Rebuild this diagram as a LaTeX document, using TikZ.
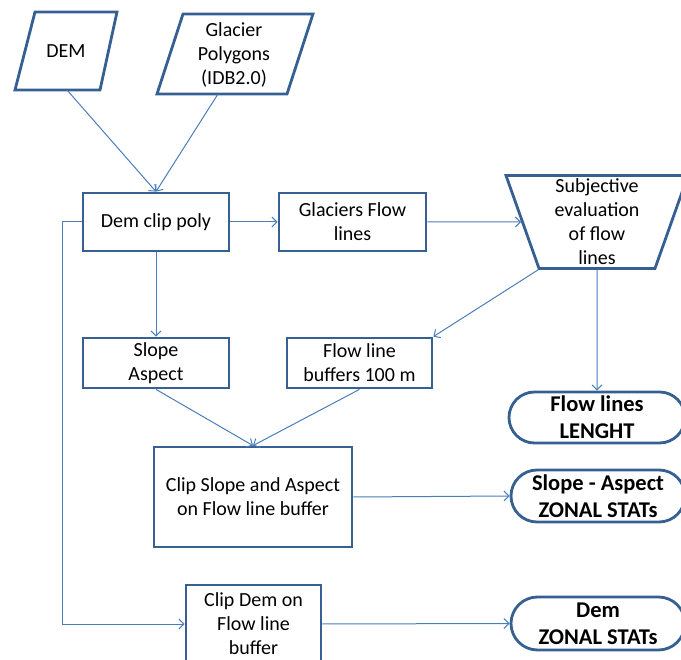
\documentclass[tikz,border=0pt]{standalone}
\usepackage{fontspec}
\setmainfont{Carlito}
\usepackage{xcolor}
\usepackage{tikz}
\usetikzlibrary{shapes.geometric,shapes.misc,arrows.meta}
\definecolor{boxblue}{RGB}{54,96,146}
\definecolor{lineblue}{RGB}{74,126,187}

\begin{document}
\begin{tikzpicture}[x=1pt, y=-1pt,
    pblock/.style={rectangle, draw=boxblue, line width=2.8pt, fill=white, align=center, inner sep=0pt, font=\fontsize{20}{24}\selectfont},
    mblock/.style={trapezium, trapezium stretches body, draw=boxblue, line width=2.8pt, fill=white, align=center, inner sep=0pt, font=\fontsize{20}{24}\selectfont},
    ioframe/.style={draw=boxblue, line width=2.8pt, fill=white, line join=miter},
    iotext/.style={align=center, inner sep=0pt, font=\fontsize{20}{24}\selectfont},
    tblock/.style={rounded rectangle, draw=boxblue, line width=2.8pt, fill=white, align=center, inner sep=0pt, font=\fontsize{22.5}{27}\selectfont\bfseries},
    farrow/.style={-{Straight Barb[length=5pt, width=10pt]}, line width=1pt, lineblue}
  ]
    % Frame
    \useasboundingbox (0,0) rectangle (681,660);
    \clip (0,0) rectangle (681,660);

    % Inputs (parallelograms)
    \draw[ioframe] (35,12) -- (117,12) -- (100,90) -- (15,90) -- cycle;
    \node[iotext] (dem) at (66,51) {DEM};
    \coordinate (demout) at (67,90);
    \draw[ioframe] (183,14) -- (313,14) -- (287,94) -- (157,94) -- cycle;
    \node[iotext] (glacpoly) at (234,55) {Glacier\\ Polygons\\ (IDB2.0)};
    \coordinate (glacout) at (218,94);

    % Processing
    \node[pblock, minimum width=146pt, minimum height=58pt] (clippoly) at (156,222) {Dem clip poly};
    \node[pblock, minimum width=147pt, minimum height=58pt] (flowlines) at (352.5,222) {Glaciers Flow\\ lines};
    \node[mblock, trapezium left angle=111, trapezium right angle=111, minimum width=182pt, minimum height=93pt] (subjeval) at (597,222) {Subjective\\ evaluation\\ of flow\\ lines};
    \node[pblock, minimum width=146pt, minimum height=50pt] (slope) at (156,363) {Slope\\ Aspect};
    \node[pblock, minimum width=145pt, minimum height=50pt] (buffers) at (359.5,363) {Flow line\\ buffers 100 m};
    \node[pblock, minimum width=198pt, minimum height=100pt] (clipslope) at (253,497) {Clip Slope and Aspect\\ on Flow line buffer};
    \node[pblock, minimum width=135pt, minimum height=78pt] (clipdem) at (253.5,624) {Clip Dem on\\ Flow line\\ buffer};

    % Outputs
    \node[tblock, minimum width=176pt, minimum height=51pt] (length) at (597,417.5) {Flow lines\\ LENGHT};
    \node[tblock, minimum width=174pt, minimum height=52pt] (slopestats) at (598,496) {Slope - Aspect\\ ZONAL STATs};
    \node[tblock, minimum width=174pt, minimum height=53pt] (demstats) at (598,623.5) {Dem\\ ZONAL STATs};

    % Connectors
    \draw[farrow] (demout) -- (clippoly.north);
    \draw[farrow] (glacout) -- (clippoly.north);
    \draw[farrow] (clippoly.east) -- (flowlines.west);
    \draw[farrow] (flowlines.east) -- (subjeval);
    \draw[farrow] (subjeval.bottom left corner) -- (buffers.north east);
    \draw[farrow] (subjeval.south) -- (length.north);
    \draw[farrow] (clippoly.south) -- (slope.north);
    \draw[farrow] (slope.south) -- (clipslope.north);
    \draw[farrow] (buffers.south) -- (clipslope.north);
    \draw[farrow] (clipslope.east) -- (slopestats.west);
    \coordinate (bend) at (62,222);
    \draw[farrow] (clippoly.west) -- (bend) |- (clipdem.west);
    \draw[farrow] (clipdem.east) -- (demstats.west);
\end{tikzpicture}
\end{document}
